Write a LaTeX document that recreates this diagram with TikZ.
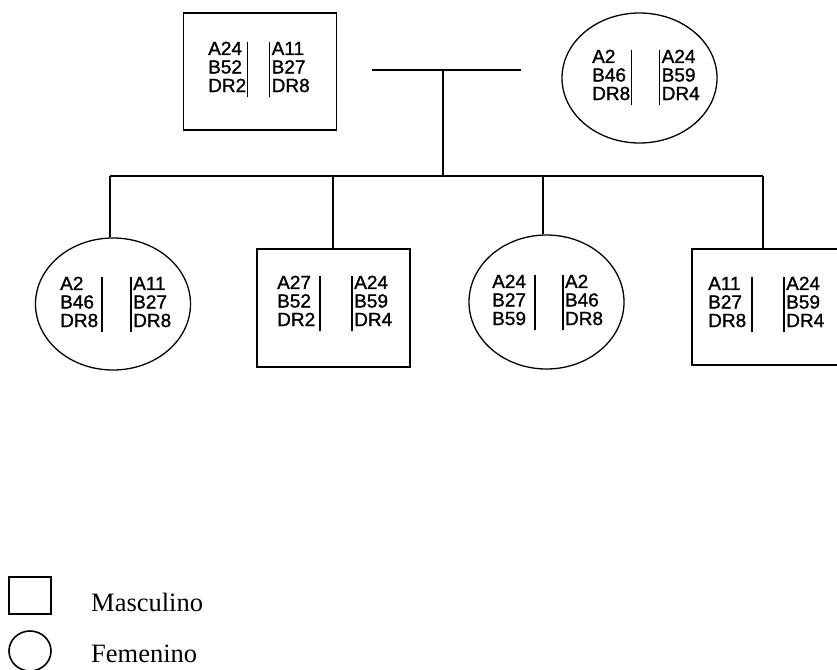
\documentclass[tikz,border=0pt]{standalone}
\usepackage{fontspec}
\setmainfont{Liberation Serif}
\setsansfont[FakeBold=1.2]{Liberation Sans}
\usepackage{tikz}
\usetikzlibrary{positioning,shapes.geometric}
\setlength{\arrayrulewidth}{1.5pt}
\newcommand{\haplo}[3]{\begin{tabular}{@{}l@{\hspace{#1}}|@{\hspace{#2}}|@{\hspace{1.5pt}}l@{}}#3\end{tabular}}

\begin{document}
\begin{tikzpicture}[
    x=1pt, y=-1pt,
    male/.style={draw, line width=1.3pt, minimum width=153pt, minimum height=117pt, inner sep=0pt},
    female/.style={draw, ellipse, line width=1.3pt, minimum width=155pt, minimum height=132pt, inner sep=0pt},
    hap/.style={anchor=west, inner sep=0pt, font=\sffamily\fontsize{19}{17.5}\selectfont},
    line/.style={line width=1.2pt},
    legmale/.style={draw, line width=1.6pt, minimum width=42pt, minimum height=37pt, inner sep=0pt},
    legfemale/.style={draw, ellipse, line width=1.6pt, minimum width=42pt, minimum height=40pt, inner sep=0pt},
    legtext/.style={anchor=base west, inner sep=0pt, font=\fontsize{26.5}{30}\selectfont}
]
\useasboundingbox (0,0) rectangle (837,669);
\clip (0,0) rectangle (837,669);

% parents
\node[male] (father) at (260,71.5) {};
\node[hap] (fatherhap) at (208,69.5) {\haplo{1.5pt}{21pt}{A24 & A11\\ B52 & B27\\ DR2 & DR8}};
\node[female, minimum height=130pt] (mother) at (639.5,78) {};
\node[hap] (motherhap) at (592,77.5) {\haplo{1.5pt}{27pt}{A2 & A24\\ B46 & B59\\ DR8 & DR4}};

% children
\node[female] (kid1) at (113,304) {};
\node[hap] (kid1hap) at (60,304.5) {\haplo{4pt}{28pt}{A2 & A11\\ B46 & B27\\ DR8 & DR8}};
\node[male, minimum height=118pt] (kid2) at (333.5,308) {};
\node[hap] (kid2hap) at (277,303.5) {\haplo{5pt}{31pt}{A27 & A24\\ B52 & B59\\ DR2 & DR4}};
\node[female, minimum height=134pt] (kid3) at (546.5,302) {};
\node[hap] (kid3hap) at (492,302.5) {\haplo{9pt}{27pt}{A24 & A2\\ B27 & B46\\ B59 & DR8}};
\node[male, minimum width=165pt, minimum height=116pt] (kid4) at (774.5,307) {};
\node[hap] (kid4hap) at (708,304.5) {\haplo{6pt}{31pt}{A11 & A24\\ B27 & B59\\ DR8 & DR4}};

\coordinate (mate1) at (372,70);
\coordinate (mate2) at (521,70);
\coordinate (mid) at (443,70);
\coordinate (sib1) at (110,176);
\coordinate (sib2) at (333,176);
\coordinate (sib3) at (543,176);
\coordinate (sib4) at (763,176);

\draw[line] (mate1) -- (mate2);
\draw[line] (mid) -- (mid |- sib1);
\draw[line] (sib1) -- (sib4);
\draw[line] (sib1) -- (sib1 |- kid1.north);
\draw[line] (sib2) -- (sib2 |- kid2.north);
\draw[line] (sib3) -- (sib3 |- kid3.north);
\draw[line] (sib4) -- (sib4 |- kid4.north);

% legend
\node[legmale] (legm) at (30,595.5) {};
\node[legtext] (legmtext) at (91,611) {Masculino};
\node[legfemale] (legf) at (30,651) {};
\node[legtext] (legftext) at (91,662) {Femenino};
\end{tikzpicture}
\end{document}
